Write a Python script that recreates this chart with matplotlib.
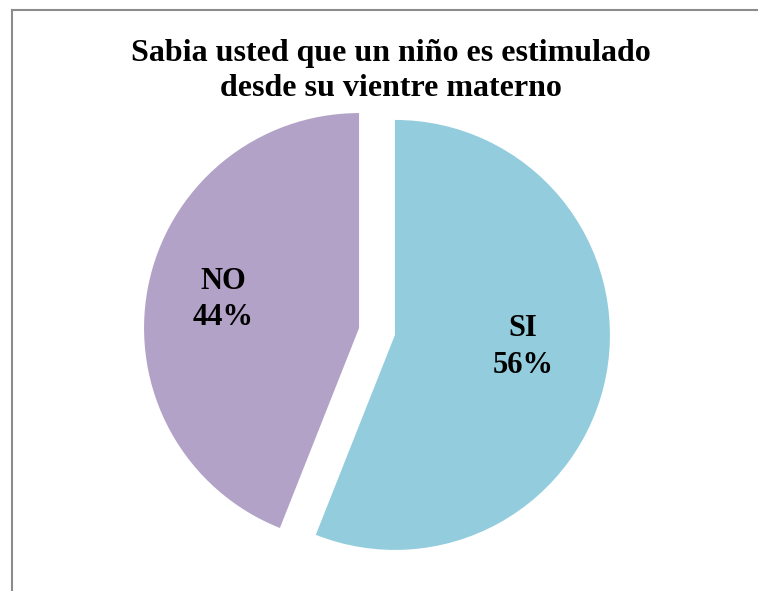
import matplotlib
matplotlib.use("Agg")
import matplotlib.pyplot as plt
from matplotlib.lines import Line2D

categories = ["SI", "NO"]
values = [56, 44]
colors = ["#93CDDD", "#B3A2C7"]
title = "Sabia usted que un niño es estimulado\ndesde su vientre materno"

W, H = 758, 591
fig = plt.figure(figsize=(W / 100, H / 100), dpi=100)
fig.patch.set_facecolor("white")

# border (left and top visible)
fig.add_artist(Line2D([12 / W, 12 / W], [0, 1 - 10 / H], transform=fig.transFigure,
                      color="#8C8C8C", lw=1.5))
fig.add_artist(Line2D([12 / W, 1], [1 - 10 / H, 1 - 10 / H], transform=fig.transFigure,
                      color="#8C8C8C", lw=1.5))

R = 215.0
cx, cy = 377.0, 331.5
half = 1.2 * R
ax = fig.add_axes([(cx - half) / W, (H - cy - half) / H, 2 * half / W, 2 * half / H])
ax.pie(values, colors=colors, startangle=90, counterclock=False,
       explode=[0.085, 0.085], wedgeprops=dict(linewidth=0))
ax.set_xlim(-1.2, 1.2)
ax.set_ylim(-1.2, 1.2)
ax.set_aspect("equal")
ax.axis("off")

font = dict(family=["Liberation Serif", "DejaVu Serif"], fontweight="bold")
label_pos = {"SI": (0.679, -0.072), "NO": (-0.716, 0.149)}
for cat, v in zip(categories, values):
    x, y = label_pos[cat]
    ax.text(x, y, f"{cat}\n{v}%", ha="center", va="center", fontsize=22,
            linespacing=1.35, **font)

fig.text(391 / W, 1 - 71 / H, title, ha="center", va="center", fontsize=23,
         linespacing=1.25, **font)

fig.savefig("out.png", dpi=100)
